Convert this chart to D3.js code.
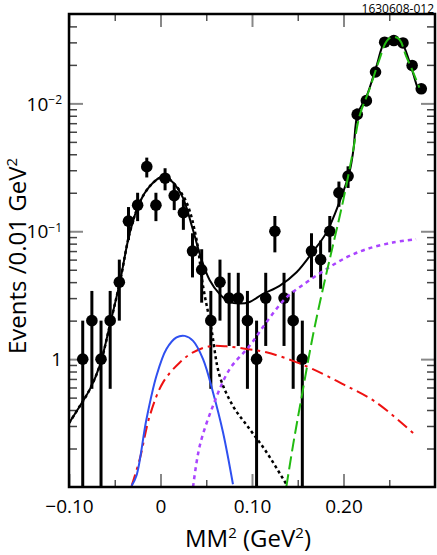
<!DOCTYPE html>
<html>
<head>
<meta charset="utf-8">
<script src="https://cdn.jsdelivr.net/npm/d3@7"></script>
<style>
  body { margin: 0; background: #fff; }
  svg { font-family: "Open Sans", sans-serif; }
</style>
</head>
<body>
<svg id="chart" width="437" height="555"></svg>
<script>
// bin centres (GeV^2) and events per bin
const binCenters = [-0.085, -0.075, -0.065, -0.055, -0.045, -0.035, -0.025, -0.015, -0.005,
  0.005, 0.015, 0.025, 0.035, 0.045, 0.055, 0.065, 0.075, 0.085, 0.095, 0.105, 0.115,
  0.125, 0.135, 0.145, 0.155, 0.165, 0.175, 0.185, 0.195, 0.205, 0.215, 0.225, 0.235,
  0.245, 0.255, 0.265, 0.275, 0.285];
const counts = [1, 2, 1, 2, 4, 12, 16, 32, 16,
  26, 19, 14, 7, 5, 2, 4, 3, 3, 2, 1, 3,
  10, 3, 2, 1, 7, 6, 10, 20, 27, 82, 105, 176,
  301, 310, 297, 198, 130];

// fit curves as [x, events]
const totalFit = [[-0.100, 0.316], [-0.0881, 0.43], [-0.0771, 0.583], [-0.0662, 0.898], [-0.0553, 1.85],
  [-0.0444, 4.0], [-0.0335, 9.8], [-0.0226, 16.9], [-0.0117, 22.5], [-0.0008, 26.2], [0.0047, 26.6],
  [0.0134, 24.2], [0.0243, 18.4], [0.0352, 10.4], [0.0447, 6.04], [0.0538, 4.14], [0.0647, 3.22],
  [0.0756, 2.79], [0.0865, 2.72], [0.0974, 2.80], [0.1116, 3.22], [0.1301, 3.74], [0.1487, 4.78],
  [0.1662, 6.86], [0.1815, 9.8], [0.1956, 16.9], [0.2065, 28.9], [0.2109, 43.7], [0.2153, 82],
  [0.2251, 113], [0.2360, 195], [0.2447, 300], [0.2535, 328], [0.2633, 300], [0.2720, 213],
  [0.2808, 133], [0.2829, 124]];
const signalFit = [[-0.100, 0.316], [-0.0881, 0.43], [-0.0771, 0.583], [-0.0662, 0.898], [-0.0553, 1.85],
  [-0.0444, 4.0], [-0.0335, 9.8], [-0.0226, 16.9], [-0.0117, 22.5], [-0.0008, 26.2], [0.0047, 26.6],
  [0.0134, 24.2], [0.0284, 16.8], [0.0393, 8.66], [0.0465, 3.72], [0.0556, 1.72], [0.0647, 0.736],
  [0.0792, 0.430], [0.0974, 0.284], [0.1157, 0.188], [0.1375, 0.105]];
const blueFit = [[-0.0316, 0.102], [-0.0262, 0.123], [-0.0153, 0.340], [-0.0044, 0.741], [0.0065, 1.20],
  [0.0175, 1.48], [0.0265, 1.52], [0.0356, 1.39], [0.0465, 1.0], [0.0574, 0.549], [0.0683, 0.268],
  [0.0792, 0.105]];
const redFit = [[-0.0316, 0.102], [-0.0226, 0.166], [-0.0117, 0.361], [0.0028, 0.658], [0.0211, 0.942],
  [0.0356, 1.13], [0.0538, 1.26], [0.0720, 1.26], [0.0938, 1.20], [0.1157, 1.13], [0.1447, 0.97],
  [0.1665, 0.835], [0.1992, 0.638], [0.2357, 0.459], [0.2793, 0.252]];
const purpleFit = [[0.0356, 0.1], [0.0429, 0.210], [0.0574, 0.432], [0.0756, 0.835], [0.0974, 1.27],
  [0.1157, 1.94], [0.1375, 3.03], [0.1593, 3.97], [0.1811, 5.05], [0.2029, 6.23], [0.2248, 7.23],
  [0.2538, 8.16], [0.2793, 8.66]];
const greenFit = [[0.1375, 0.1], [0.1447, 0.209], [0.1538, 0.487], [0.1665, 1.52], [0.1774, 3.52],
  [0.1883, 7.67], [0.1992, 16.8], [0.2101, 41.2], [0.2175, 79.6], [0.2284, 129], [0.2393, 221],
  [0.2472, 307], [0.2538, 332], [0.2611, 316], [0.2684, 234], [0.2756, 179], [0.2829, 133]];

// tick labels
const xMajorTicks = [-0.10, 0, 0.10, 0.20];
const xTickLabels = ["\u22120.10", "0", "0.10", "0.20"];
const xMinorTicks = [-0.05, 0.05, 0.15, 0.25];
const yMajorTicks = [1, 10, 100];
const yTickBase = ["1", "10", "10"];
const yTickExp = ["", "\u22121", "\u22122"];
const yMinorTicks = [0.2, 0.3, 0.4, 0.5, 0.6, 0.7, 0.8, 0.9, 2, 3, 4, 5, 6, 7, 8, 9,
  20, 30, 40, 50, 60, 70, 80, 90, 200, 300, 400];

const plotLeft = 69, plotRight = 435, plotTop = 14, plotBottom = 487;

const x = d3.scaleLinear().domain([-0.10, 0.30]).range([plotLeft, plotRight]);
const y = d3.scaleLog().domain([0.1, 500]).range([plotBottom, plotTop]);

const svg = d3.select("#chart");

svg.append("defs").append("clipPath").attr("id", "plot")
  .append("rect").attr("x", plotLeft).attr("y", plotTop)
  .attr("width", plotRight - plotLeft).attr("height", plotBottom - plotTop);

// axes: inward ticks on all four sides
function styleTicks(g, color, w) {
  g.select(".domain").remove();
  g.selectAll(".tick line").attr("stroke", color).attr("stroke-width", w);
}

svg.append("g").attr("transform", `translate(0,${plotBottom})`)
  .call(d3.axisBottom(x).tickValues(xMinorTicks).tickSize(-7).tickFormat(""))
  .call(g => styleTicks(g, "#555", 1.5));
svg.append("g").attr("transform", `translate(0,${plotTop})`)
  .call(d3.axisTop(x).tickValues(xMinorTicks).tickSize(-7).tickFormat(""))
  .call(g => styleTicks(g, "#555", 1.5));
svg.append("g").attr("transform", `translate(0,${plotTop})`)
  .call(d3.axisTop(x).tickValues(xMajorTicks).tickSize(-13).tickFormat(""))
  .call(g => styleTicks(g, "#888", 2));

const xAxis = svg.append("g").attr("transform", `translate(0,${plotBottom})`)
  .call(d3.axisBottom(x).tickValues(xMajorTicks).tickSize(-13).tickPadding(13)
    .tickFormat((d, i) => xTickLabels[i]))
  .call(g => styleTicks(g, "#888", 2));
xAxis.selectAll("text").attr("font-size", 19).attr("fill", "#000")
  .attr("font-family", "Open Sans, sans-serif");

svg.append("g").attr("transform", `translate(${plotLeft},0)`)
  .call(d3.axisLeft(y).tickValues(yMinorTicks).tickSize(-8).tickFormat(""))
  .call(g => styleTicks(g, "#444", 1.5));
svg.append("g").attr("transform", `translate(${plotRight},0)`)
  .call(d3.axisRight(y).tickValues(yMinorTicks).tickSize(-8).tickFormat(""))
  .call(g => styleTicks(g, "#444", 1.5));
svg.append("g").attr("transform", `translate(${plotRight},0)`)
  .call(d3.axisRight(y).tickValues(yMajorTicks).tickSize(-14).tickFormat(""))
  .call(g => styleTicks(g, "#888", 2));

const yAxis = svg.append("g").attr("transform", `translate(${plotLeft},0)`)
  .call(d3.axisLeft(y).tickValues(yMajorTicks).tickSize(-14).tickPadding(7).tickFormat(""))
  .call(g => styleTicks(g, "#888", 2));
yAxis.selectAll(".tick").each(function (d, i) {
  const t = d3.select(this).append("text")
    .attr("x", -7).attr("dy", "0.35em")
    .attr("text-anchor", "end").attr("fill", "#000")
    .attr("font-size", 19).attr("font-family", "Open Sans, sans-serif");
  t.append("tspan").text(yTickBase[i]);
  if (yTickExp[i]) {
    t.append("tspan").attr("font-size", 12).attr("dy", "-0.55em").text(yTickExp[i]);
  }
});

// data points with sqrt(N) errors
const plot = svg.append("g").attr("clip-path", "url(#plot)");
const pts = binCenters.map((c, i) => ({ x: c, n: counts[i] }));

plot.selectAll("line.err").data(pts).enter().append("line")
  .attr("class", "err")
  .attr("x1", d => x(d.x)).attr("x2", d => x(d.x))
  .attr("y1", d => y(Math.max(d.n - Math.sqrt(d.n), 0.1)))
  .attr("y2", d => y(d.n + Math.sqrt(d.n)))
  .attr("stroke", "#000").attr("stroke-width", 3);

plot.selectAll("circle").data(pts).enter().append("circle")
  .attr("cx", d => x(d.x)).attr("cy", d => y(d.n)).attr("r", 5.8)
  .attr("fill", "#000");

// fit curves
const line = d3.line().x(d => x(d[0])).y(d => y(d[1])).curve(d3.curveCatmullRom);

const curves = [
  { data: redFit, color: "#ee1111", dash: "12,5,3,5", w: 2 },
  { data: blueFit, color: "#2f50f0", dash: null, w: 2 },
  { data: purpleFit, color: "#aa44ff", dash: "4,4", w: 2.5 },
  { data: signalFit, color: "#000", dash: "3,3", w: 2.5 },
  { data: totalFit, color: "#000", dash: null, w: 2 },
  { data: greenFit, color: "#22bb11", dash: "13,5", w: 2 }
];
curves.forEach(c => {
  plot.append("path").datum(c.data)
    .attr("d", line)
    .attr("fill", "none")
    .attr("stroke", c.color)
    .attr("stroke-width", c.w)
    .attr("stroke-dasharray", c.dash);
});

// frame
svg.append("rect").attr("x", plotLeft).attr("y", plotTop)
  .attr("width", plotRight - plotLeft).attr("height", plotBottom - plotTop)
  .attr("fill", "none").attr("stroke", "#000").attr("stroke-width", 2.5);

// titles
const xt = svg.append("text").attr("x", 248).attr("y", 547)
  .attr("text-anchor", "middle").attr("font-size", 24);
xt.append("tspan").text("MM");
xt.append("tspan").attr("font-size", 15).attr("dy", "-0.6em").text("2");
xt.append("tspan").attr("dy", "0.375em").text(" (GeV");
xt.append("tspan").attr("font-size", 15).attr("dy", "-0.6em").text("2");
xt.append("tspan").attr("dy", "0.375em").text(")");

const yt = svg.append("text")
  .attr("transform", "translate(26,256) rotate(-90)")
  .attr("text-anchor", "middle").attr("font-size", 24);
yt.append("tspan").text("Events /0.01 GeV");
yt.append("tspan").attr("font-size", 15).attr("dy", "-0.6em").text("2");

svg.append("text").attr("x", 434).attr("y", 13)
  .attr("text-anchor", "end").attr("font-size", 12).text("1630608-012");
</script>
</body>
</html>
